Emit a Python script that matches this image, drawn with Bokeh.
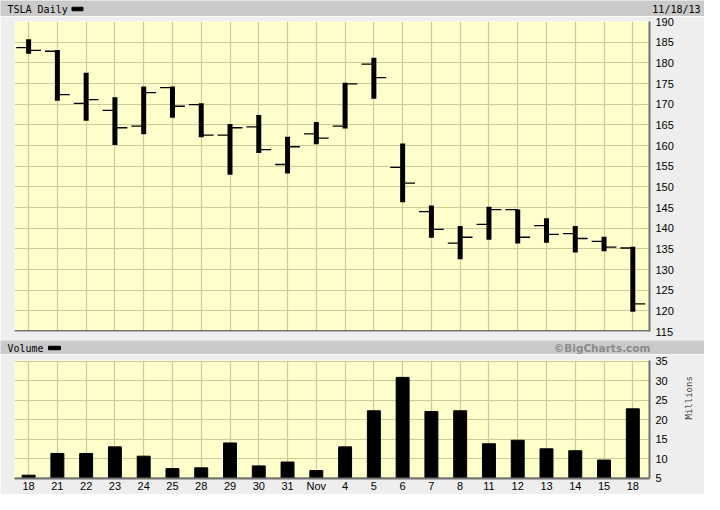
import math
from bokeh.plotting import figure
from bokeh.layouts import column, row
from bokeh.models import Range1d, FixedTicker, Grid, Span
from bokeh.core.properties import value
from bokeh.embed import file_html
from bokeh.resources import INLINE

# ---------------- data ----------------
day_labels = ["18", "21", "22", "23", "24", "25", "28", "29", "30", "31", "Nov",
              "4", "5", "6", "7", "8", "11", "12", "13", "14", "15", "18"]
price_open = [183.7, 182.8, 170.2, 168.5, 164.7, 174.0, 169.9, 162.5, 164.5, 155.4, 162.8,
              164.7, 179.7, 154.7, 144.0, 136.4, 140.9, 144.5, 140.6, 138.7, 136.8, 135.2]
price_high = [185.7, 183.1, 177.6, 171.7, 174.3, 174.3, 170.2, 165.2, 167.4, 162.1, 165.7,
              175.2, 181.2, 160.5, 145.5, 140.5, 145.2, 144.5, 142.4, 140.5, 137.9, 135.5]
price_low = [182.2, 170.8, 166.0, 160.1, 162.7, 166.7, 162.0, 152.9, 158.2, 153.2, 160.3,
             164.1, 171.3, 146.3, 137.7, 132.5, 137.2, 136.3, 136.5, 134.1, 134.4, 119.8]
price_close = [183.0, 172.3, 171.1, 164.3, 172.8, 169.5, 162.5, 164.3, 159.0, 159.7, 161.8,
               174.9, 176.4, 150.9, 139.7, 137.8, 144.5, 137.8, 138.5, 137.5, 135.4, 121.7]
volume_m = [5.7, 11.3, 11.3, 13.0, 10.6, 7.4, 7.6, 14.0, 8.1, 9.1, 6.9,
            13.0, 22.3, 30.9, 22.1, 22.3, 13.8, 14.7, 12.5, 12.0, 9.6, 22.8]
price_ticks = [115, 120, 125, 130, 135, 140, 145, 150, 155, 160, 165, 170, 175, 180, 185, 190]
volume_ticks = [5, 10, 15, 20, 25, 30, 35]
title_text = "TSLA Daily"
date_text = "11/18/13"
volume_title = "Volume"
credit_text = "\u00a9BigCharts.com"
volume_unit = "Millions"

idx = list(range(len(day_labels)))
TICK = 0.43

W = 704
LEFT = 14
RIGHT_B = 55
BG = "#EEEEEE"
BAND = "#CACACA"
PLOT_BG = "#FFFFCC"
GRID = "#CCCC99"
AXIS = "#707070"
MONO = value("DejaVu Sans Mono")
X_RANGE = Range1d(-0.49, 21.58)


def header(height, left_text, dash_x, dash_w, right_text, right_x, right_color,
           right_font, right_size, right_style):
    h = figure(width=W, height=height, x_range=Range1d(0, W), y_range=Range1d(height, 0),
               output_backend="svg", toolbar_location=None, min_border=0,
               x_axis_location=None, y_axis_location=None,
               background_fill_color=BAND, border_fill_color=BAND, outline_line_color=None)
    h.grid.visible = False
    yc = height / 2.0 + 0.5
    h.text(x=[7], y=[yc], text=[left_text], text_align="left", text_baseline="middle",
           text_font=MONO, text_font_size="10px", text_color="black")
    h.rect(x=[dash_x], y=[yc], width=dash_w, height=3.5, color="black")
    h.text(x=[right_x], y=[yc], text=[right_text], text_align="right", text_baseline="middle",
           text_font=right_font, text_font_size=right_size,
           text_font_style=right_style, text_color=right_color)
    return h


def style_panel(p, x_ticks, y_ticks):
    p.add_layout(Grid(dimension=0, ticker=FixedTicker(ticks=x_ticks),
                      grid_line_color=GRID, grid_line_width=1.2))
    p.ygrid.ticker = FixedTicker(ticks=y_ticks)
    p.ygrid.grid_line_color = GRID
    p.ygrid.grid_line_width = 1.2
    ax = p.yaxis[0]
    ax.ticker = FixedTicker(ticks=y_ticks)
    ax.axis_line_color = AXIS
    ax.axis_line_width = 2
    ax.major_tick_in = 0
    ax.major_tick_out = 0
    ax.minor_tick_in = 0
    ax.minor_tick_out = 0
    ax.major_label_standoff = 6
    ax.major_label_text_font = "Liberation Sans"
    ax.major_label_text_font_size = "11px"
    ax.major_label_text_color = "black"


h1 = header(16, title_text, 77, 11, date_text, 700, "black", MONO, "10px", "normal")

# ---------------- price panel ----------------
p1 = figure(width=W, height=324, x_range=X_RANGE, y_range=Range1d(115, 190),
            x_axis_location=None, y_axis_location="right",
            output_backend="svg", toolbar_location=None,
            min_border_left=LEFT, min_border_right=RIGHT_B, min_border_top=5,
            min_border_bottom=9,
            background_fill_color=PLOT_BG, border_fill_color=BG, outline_line_color=None)
style_panel(p1, idx, price_ticks)
p1.add_layout(Span(location=115, dimension="width", line_color=AXIS, line_width=3))

p1.segment(x0=idx, y0=price_low, x1=idx, y1=price_high, line_width=5, line_color="black")
p1.segment(x0=[i - TICK for i in idx], y0=price_open, x1=idx, y1=price_open,
           line_width=1.3, line_color="black")
p1.segment(x0=idx, y0=price_close, x1=[i + TICK for i in idx], y1=price_close,
           line_width=1.3, line_color="black")

# ---------------- volume panel ----------------
h2 = header(14, volume_title, 54, 12, credit_text, 650, "#8A8A8A",
            value("DejaVu Sans"), "10.5px", "bold")

p2 = figure(width=W, height=140, x_range=X_RANGE, y_range=Range1d(4.85, 35.25),
            y_axis_location="right", output_backend="svg", toolbar_location=None,
            min_border_left=LEFT, min_border_right=RIGHT_B, min_border_top=6,
            min_border_bottom=13,
            background_fill_color=PLOT_BG, border_fill_color=BG, outline_line_color=None)
p2.xgrid.visible = False
style_panel(p2, idx, volume_ticks)
p2.vbar(x=idx, top=volume_m, bottom=0, width=0.45, color="black")

xa = p2.xaxis[0]
xa.ticker = FixedTicker(ticks=idx)
xa.major_label_overrides = {i: lab for i, lab in zip(idx, day_labels)}
xa.major_label_standoff = 1
xa.axis_line_color = AXIS
xa.axis_line_width = 2
xa.major_tick_in = 0
xa.major_tick_out = 0
xa.minor_tick_in = 0
xa.minor_tick_out = 0
xa.major_label_text_font = "Liberation Sans"
xa.major_label_text_font_size = "11px"
xa.major_label_text_color = "black"

ya = p2.yaxis[0]
ya.axis_label = volume_unit
ya.axis_label_text_font = "DejaVu Sans Mono"
ya.axis_label_text_font_size = "9px"
ya.axis_label_text_font_style = "normal"
ya.axis_label_standoff = 18
ya.axis_label_orientation = math.pi / 2

# wrapping the header strips in rows keeps their frames full-width
layout = column(row(h1), p1, row(h2), p2, spacing=0)
open("out.html", "w").write(file_html(layout, INLINE))
